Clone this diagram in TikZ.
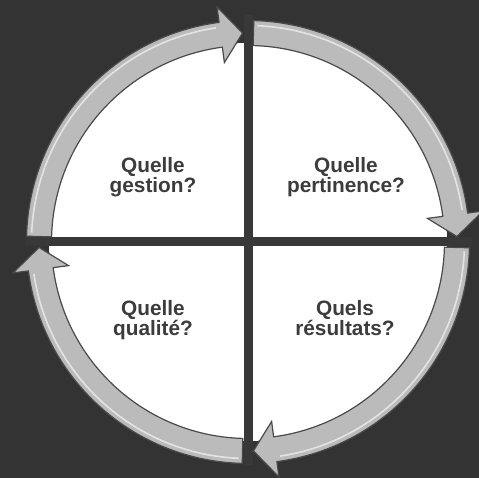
\documentclass[tikz,border=0pt]{standalone}
\usepackage{fontspec}
\setmainfont{Liberation Sans}
\definecolor{bg}{HTML}{333333}
\definecolor{crossc}{HTML}{383838}
\definecolor{arrowfill}{HTML}{BBBBBB}
\definecolor{arrowline}{HTML}{4A4A4A}
\definecolor{txt}{HTML}{3C3C3C}
\tikzset{
  arrowstyle/.style={fill=arrowfill, draw=arrowline, line width=1.2pt, line join=miter},
  highlight/.style={draw=white, opacity=0.6, line width=1.6pt},
  crossline/.style={draw=crossc, line width=9pt},
  label/.style={font=\bfseries\fontsize{20.8}{17.5}\selectfont, align=center, text=txt, inner sep=0pt, anchor=north}
}
\newcommand\ringarrow[2]{%
  \pgfmathsetmacro\hb{#2+6}%
  \pgfmathsetmacro\ta{#1-1}%
  \pgfmathsetmacro\hc{\hb+1}%
  \filldraw[arrowstyle] (#1:221.5) arc[start angle=#1, end angle=\hb, radius=221.5]
    -- (\hb:237) -- (#2:209) -- (\hb:181) -- (\hb:196.5)
    arc[start angle=\hb, end angle=#1, radius=196.5] -- cycle;
  \draw[highlight] (\ta:216.5) arc[start angle=\ta, end angle=\hc, radius=216.5];
}
\begin{document}
\begin{tikzpicture}[x=1pt,y=1pt]
\fill[bg] (0,0) rectangle (479,478);
\useasboundingbox (0,0) rectangle (479,478);
\begin{scope}[shift={(248,236)}]
  \fill[white] (0,0) circle[radius=199];
  \coordinate (ctop) at (0,227);
  \coordinate (cbot) at (0,-223);
  \coordinate (cleft) at (-223,0);
  \coordinate (cright) at (224,0);
  \draw[crossline] (ctop) -- (cbot);
  \draw[crossline] (cleft) -- (cright);
  \ringarrow{178.5}{91.5}
  \ringarrow{88.5}{1.5}
  \ringarrow{-1.5}{-88.5}
  \ringarrow{-91.5}{-178.5}
  \node[label] (tl) at (-95,85) {Quelle\\gestion?};
  \node[label] (tr) at (98,85) {Quelle\\pertinence?};
  \node[label] (bl) at (-95,-58) {Quelle\\qualité?};
  \node[label] (br) at (97,-58) {Quels\\résultats?};
\end{scope}
\end{tikzpicture}
\end{document}
